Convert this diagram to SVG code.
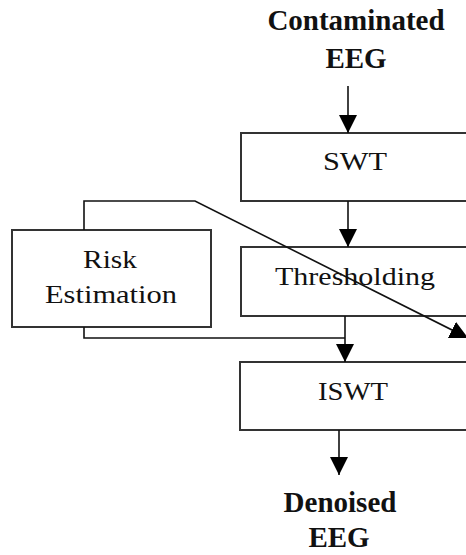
<svg xmlns="http://www.w3.org/2000/svg" width="466" height="555" viewBox="0 0 466 555">
<style>
.box{fill:#fff;stroke:#333;stroke-width:2}
.lbl{font-family:"Liberation Serif","Times New Roman",serif;font-size:26px;fill:#111;text-anchor:middle}
.io{font-family:"Liberation Serif","Times New Roman",serif;font-size:29px;font-weight:bold;fill:#111;text-anchor:middle}
.con{fill:none;stroke:#111;stroke-width:1.6}
</style>
<defs>
<marker id="ah" viewBox="0 0 18 18" refX="18" refY="9" markerWidth="18" markerHeight="18" markerUnits="userSpaceOnUse" orient="auto">
<path d="M0,0 L18,9 L0,18 z" fill="#000"/>
</marker>
</defs>
<rect width="466" height="555" fill="#fff"/>
<g id="input">
<text class="io" x="356" y="30">Contaminated</text>
<text class="io" x="356" y="68">EEG</text>
</g>
<g id="swt">
<rect class="box" x="241" y="133" width="240" height="68"/>
<text class="lbl" x="355" y="170" textLength="64" lengthAdjust="spacingAndGlyphs">SWT</text>
</g>
<g id="risk">
<rect class="box" x="12" y="230" width="199" height="97"/>
<text class="lbl" x="110" y="268" textLength="54" lengthAdjust="spacingAndGlyphs">Risk</text>
<text class="lbl" x="111" y="303" textLength="132" lengthAdjust="spacingAndGlyphs">Estimation</text>
</g>
<g id="thresholding">
<rect class="box" x="241" y="247" width="240" height="69"/>
<text class="lbl" x="355" y="285" textLength="160" lengthAdjust="spacingAndGlyphs">Thresholding</text>
</g>
<g id="iswt">
<rect class="box" x="240" y="362" width="241" height="68"/>
<text class="lbl" x="353" y="400" textLength="70" lengthAdjust="spacingAndGlyphs">ISWT</text>
</g>
<g id="output">
<text class="io" x="340" y="512">Denoised</text>
<text class="io" x="339" y="547">EEG</text>
</g>
<g id="connectors">
<line class="con" x1="348" y1="86" x2="348" y2="133" marker-end="url(#ah)"/>
<line class="con" x1="348" y1="201" x2="348" y2="247" marker-end="url(#ah)"/>
<polyline class="con" points="84,230 84,201 195,201 468,338" marker-end="url(#ah)"/>
<polyline class="con" points="84,327 84,338 345,338"/>
<line class="con" x1="345" y1="316" x2="345" y2="362" marker-end="url(#ah)"/>
<line class="con" x1="339" y1="430" x2="339" y2="475" marker-end="url(#ah)"/>
</g>
</svg>
